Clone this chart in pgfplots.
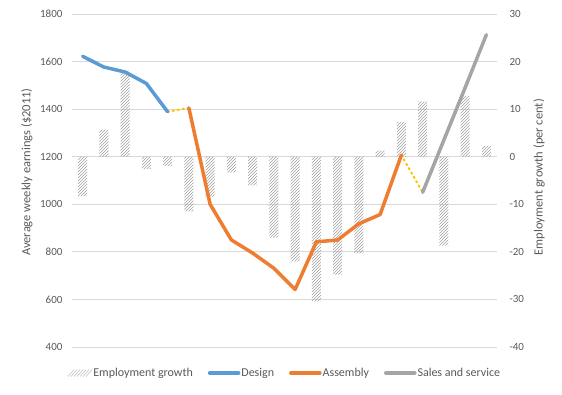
\documentclass[border=0pt]{standalone}
\usepackage{fontspec}
\setmainfont{Carlito}
\usepackage{pgfplots}
\pgfplotsset{compat=1.18}
\usetikzlibrary{patterns}
\definecolor{designc}{HTML}{5B9BD5}
\definecolor{assemc}{HTML}{ED7D31}
\definecolor{salesc}{HTML}{A5A5A5}
\definecolor{dotc}{HTML}{FFC000}
\definecolor{txtc}{HTML}{595959}
\definecolor{gridc}{HTML}{D9D9D9}
\definecolor{hatchc}{HTML}{A0A0A0}
\begin{document}
\begin{tikzpicture}
\path[use as bounding box] (-72pt,-47pt) rectangle (490pt,347pt);
\pgfplotsset{common/.style={scale only axis, width=425pt, height=333pt,
  xmin=0.5, xmax=20.5, xtick=\empty, axis line style={draw=none},
  major tick length=0pt,
  tick label style={font=\fontsize{11}{13}\selectfont, text=txtc},
  at={(0,0)}, anchor=south west}}
\begin{axis}[common, ymin=-40, ymax=30, ytick={-40,-30,...,30},
  yticklabels={-40,-30,-20,-10,0,10,20,30},
  axis y line*=right, axis x line=none,
  yticklabel style={anchor=west, xshift=9pt},
  ymajorgrids, grid style={gridc, line width=0.75pt},
  every axis y label/.style={at={(axis description cs:1,0.51)}, xshift=42pt, anchor=center, rotate=90,
    font=\fontsize{12.5}{15}\selectfont, text=txtc},
  ylabel={Employment growth (per cent)}]
\addplot[ybar, bar width=9pt, draw=none, pattern=north east lines, pattern color=hatchc, forget plot] coordinates {
(1,-8.3) (2,5.7) (3,18.1) (4,-2.6) (5,-1.9) (6,-11.5) (7,-8.5) (8,-3.3) (9,-6.0) (10,-17.0)
(11,-22.0) (12,-30.4) (13,-24.8) (14,-20.3) (15,1.3) (16,7.3) (17,11.6) (18,-18.7) (19,12.8) (20,2.3)};
\end{axis}
\begin{axis}[common, ymin=400, ymax=1800, ytick={400,600,...,1800},
  yticklabels={400,600,800,1000,1200,1400,1600,1800},
  axis y line*=left, axis x line=none,
  yticklabel style={anchor=east, xshift=-6pt},
  every axis y label/.style={at={(axis description cs:0,0.525)}, xshift=-45pt, anchor=center, rotate=90,
    font=\fontsize{12.5}{15}\selectfont, text=txtc},
  ylabel={Average weekly earnings (\$2011)},
  legend columns=-1,
  legend style={at={(axis description cs:0.5,-0.078)}, anchor=center, draw=none, fill=none,
    font=\fontsize{12}{14}\selectfont, text=txtc,
    nodes={inner xsep=1pt},
    /tikz/every even column/.append style={column sep=14pt}},
  line join=round, line cap=round]
\addplot[dotc, line width=2pt, dash pattern=on 1.5pt off 3.5pt, forget plot] coordinates {(5,1389) (6,1405)};
\addplot[dotc, line width=2pt, dash pattern=on 1.5pt off 3.5pt, forget plot] coordinates {(16,1207) (17,1050)};
\addplot[designc, line width=3.5pt, forget plot] coordinates {(1,1622) (2,1577) (3,1556) (4,1508) (5,1389)};
\addplot[assemc, line width=3.5pt, forget plot] coordinates {(6,1405) (7,1000) (8,850) (9,795) (10,731) (11,642) (12,842) (13,850) (14,918) (15,957) (16,1207)};
\addplot[salesc, line width=3.5pt, forget plot] coordinates {(17,1050) (18,1270) (19,1490) (20,1713)};
\addlegendimage{legend image code/.code={
  \foreach \k in {0,...,6} {\draw[gray!55, line width=0.5pt, line cap=butt] (3*\k pt,-3.5pt) -- ++(6pt,7pt);}}}
\addlegendentry{Employment growth}
\addlegendimage{legend image code/.code={\draw[designc, line width=3.5pt, line cap=round] (0pt,0pt) -- (29pt,0pt);}}
\addlegendentry{Design}
\addlegendimage{legend image code/.code={\draw[assemc, line width=3.5pt, line cap=round] (0pt,0pt) -- (29pt,0pt);}}
\addlegendentry{Assembly}
\addlegendimage{legend image code/.code={\draw[salesc, line width=3.5pt, line cap=round] (0pt,0pt) -- (29pt,0pt);}}
\addlegendentry{Sales and service}
\end{axis}
\end{tikzpicture}
\end{document}
